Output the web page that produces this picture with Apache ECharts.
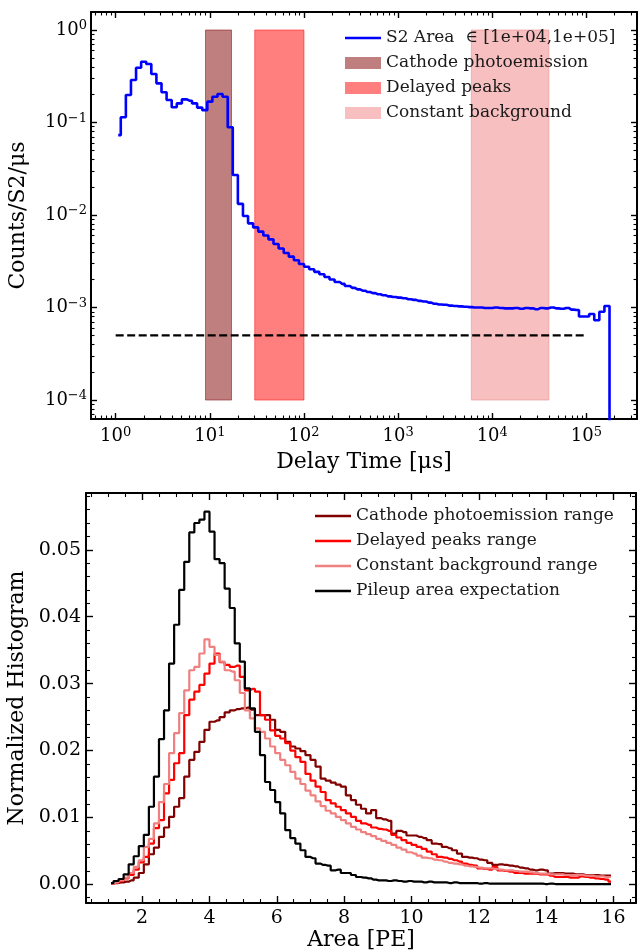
<!DOCTYPE html>
<html><head><meta charset="utf-8">
<script src="https://cdn.jsdelivr.net/npm/echarts@6/dist/echarts.min.js"></script>
<style>html,body{margin:0;padding:0;background:#fff}#c{width:641px;height:952px}</style>
</head><body><div id="c"></div>
<script>
// ---------------- DATA ----------------
// Top panel: log-spaced delay-time histogram (bins from 10^0 to 10^5.3)
const delayBinLogMin = 0, delayBinLogMax = 5.3, delayBinCount = 98;
const delayCounts = [
  0.073, 0.114, 0.198, 0.288, 0.391, 0.454, 0.429, 0.335, 0.265, 0.212,
  0.175, 0.146, 0.161, 0.178, 0.172, 0.161, 0.145, 0.136, 0.168, 0.190,
  0.203, 0.190, 0.0888, 0.0271, 0.0132, 0.00975, 0.00813, 0.00735, 0.00662, 0.00601,
  0.00546, 0.00487, 0.00435, 0.00388, 0.00355, 0.00324, 0.00296, 0.00276, 0.00259, 0.00243,
  0.00229, 0.00214, 0.00201, 0.00189, 0.00180, 0.00171, 0.00163, 0.00157, 0.00152, 0.00147,
  0.00143, 0.00139, 0.00136, 0.00132, 0.00130, 0.00128, 0.00126, 0.00123, 0.00121, 0.00118,
  0.00116, 0.00113, 0.00110, 0.00108, 0.00107, 0.00105, 0.00104, 0.00103, 0.00102, 0.00101,
  0.00100, 0.00100, 0.00099, 0.00099, 0.00100, 0.00099, 0.00098, 0.00098, 0.00099, 0.00097,
  0.00099, 0.00098, 0.00096, 0.00099, 0.00098, 0.00100, 0.00098, 0.00097, 0.00099, 0.00095,
  0.00094, 0.00080, 0.00080, 0.00085, 0.00073, 0.00090, 0.00104, 0
];
const delaySeriesName = 'S2 Area  \u2208 [1e+04,1e+05]';
const bandNames = ['Cathode photoemission', 'Delayed peaks', 'Constant background'];
const bandXRanges = [[9, 17], [30, 100], [6000, 40000]];
const bandYRange = [1e-4, 1];
const pileupLevel = 5e-4;
const pileupLevelXRange = [1, 1e5];
const topXMajor = [1, 10, 100, 1000, 10000, 100000];
const topYMajor = [1e-4, 1e-3, 1e-2, 1e-1, 1];

// Bottom panel: linear area histograms (100 bins from 1 to 16 PE)
const areaBinMin = 1, areaBinMax = 16, areaBinCount = 100;
const areaSeriesNames = ['Cathode photoemission range', 'Delayed peaks range', 'Constant background range', 'Pileup area expectation'];
const cathodeHist = [
  0.0001, 0.0002, 0.0003, 0.0004, 0.0006, 0.0010, 0.0017, 0.0030, 0.0045, 0.0055,
  0.0071, 0.0085, 0.0101, 0.0116, 0.0129, 0.0161, 0.0186, 0.0198, 0.0213, 0.0231,
  0.0243, 0.0245, 0.0250, 0.0257, 0.0260, 0.0262, 0.0263, 0.0264, 0.0261, 0.0253,
  0.0253, 0.0253, 0.0246, 0.0231, 0.0228, 0.0213, 0.0206, 0.0203, 0.0199, 0.0193,
  0.0186, 0.0176, 0.0158, 0.0155, 0.0152, 0.0149, 0.0146, 0.0133, 0.0126, 0.0119,
  0.0113, 0.0106, 0.0111, 0.0099, 0.0097, 0.0095, 0.0076, 0.0080, 0.0078, 0.0073,
  0.0073, 0.0071, 0.0069, 0.0066, 0.0061, 0.0060, 0.0056, 0.0054, 0.0051, 0.0046,
  0.0041, 0.0040, 0.0039, 0.0037, 0.0036, 0.0032, 0.0029, 0.0030, 0.0029, 0.0028,
  0.0027, 0.0025, 0.0024, 0.0022, 0.0021, 0.0022, 0.0021, 0.0016, 0.0017, 0.0017,
  0.0016, 0.0016, 0.0015, 0.0015, 0.0014, 0.0014, 0.0014, 0.0013, 0.0013, 0.0013
];
const delayedHist = [
  0.0001, 0.0003, 0.0005, 0.0009, 0.0014, 0.0022, 0.0033, 0.0041, 0.0061, 0.0084,
  0.0096, 0.0136, 0.0156, 0.0181, 0.0196, 0.0253, 0.0276, 0.0288, 0.0298, 0.0315,
  0.0330, 0.0345, 0.0332, 0.0328, 0.0325, 0.0327, 0.0310, 0.0290, 0.0292, 0.0288,
  0.0253, 0.0246, 0.0230, 0.0222, 0.0218, 0.0211, 0.0200, 0.0190, 0.0183, 0.0165,
  0.0155, 0.0146, 0.0138, 0.0126, 0.0121, 0.0116, 0.0111, 0.0106, 0.0101, 0.0095,
  0.0091, 0.0089, 0.0085, 0.0083, 0.0082, 0.0080, 0.0074, 0.0070, 0.0066, 0.0062,
  0.0059, 0.0056, 0.0053, 0.0049, 0.0045, 0.0041, 0.0040, 0.0038, 0.0036, 0.0034,
  0.0031, 0.0029, 0.0028, 0.0024, 0.0023, 0.0022, 0.0026, 0.0021, 0.0020, 0.0019,
  0.0017, 0.0017, 0.0016, 0.0016, 0.0016, 0.0015, 0.0015, 0.0013, 0.0011, 0.0011,
  0.0011, 0.0010, 0.0010, 0.0012, 0.0011, 0.0010, 0.0009, 0.0008, 0.0007, 0.0004
];
const constantHist = [
  0.0001, 0.0003, 0.0006, 0.0010, 0.0017, 0.0026, 0.0036, 0.0056, 0.0068, 0.0091,
  0.0123, 0.0150, 0.0196, 0.0226, 0.0256, 0.0290, 0.0320, 0.0325, 0.0345, 0.0366,
  0.0355, 0.0343, 0.0333, 0.0320, 0.0318, 0.0305, 0.0286, 0.0260, 0.0248, 0.0233,
  0.0228, 0.0218, 0.0206, 0.0196, 0.0186, 0.0178, 0.0168, 0.0158, 0.0150, 0.0140,
  0.0133, 0.0124, 0.0117, 0.0110, 0.0106, 0.0101, 0.0096, 0.0091, 0.0086, 0.0082,
  0.0078, 0.0075, 0.0072, 0.0068, 0.0065, 0.0062, 0.0059, 0.0055, 0.0052, 0.0048,
  0.0046, 0.0043, 0.0040, 0.0039, 0.0037, 0.0036, 0.0034, 0.0032, 0.0031, 0.0030,
  0.0028, 0.0027, 0.0026, 0.0025, 0.0024, 0.0024, 0.0023, 0.0022, 0.0021, 0.0021,
  0.0020, 0.0019, 0.0019, 0.0018, 0.0017, 0.0016, 0.0016, 0.0015, 0.0015, 0.0015,
  0.0014, 0.0014, 0.0014, 0.0014, 0.0013, 0.0013, 0.0012, 0.0012, 0.0011, 0.0011
];
const pileupHist = [
  0.0002, 0.0005, 0.0008, 0.0015, 0.0030, 0.0042, 0.0057, 0.0074, 0.0116, 0.0161,
  0.0217, 0.0260, 0.0330, 0.0388, 0.0440, 0.0482, 0.0526, 0.0540, 0.0545, 0.0557,
  0.0527, 0.0486, 0.0480, 0.0442, 0.0413, 0.0360, 0.0333, 0.0293, 0.0263, 0.0228,
  0.0193, 0.0153, 0.0141, 0.0123, 0.0106, 0.0081, 0.0069, 0.0061, 0.0051, 0.0041,
  0.0039, 0.0031, 0.0029, 0.0028, 0.0021, 0.0022, 0.0017, 0.0017, 0.0014, 0.0011,
  0.0010, 0.0009, 0.0007, 0.0006, 0.0006, 0.0005, 0.0006, 0.0005, 0.0004, 0.0005,
  0.0004, 0.0004, 0.0003, 0.0004, 0.0003, 0.0003, 0.0003, 0.0002, 0.0003, 0.0002,
  0.0002, 0.0002, 0.0002, 0.0001, 0.0002, 0.0001, 0.0001, 0.0001, 0.0001, 0.0001,
  0.0001, 0.0001, 0.0001, 0.0001, 0.0001, 0.0001, 0.00005, 0.0001, 0.00005, 0.00005,
  0.00005, 0.00005, 0.00005, 0.00005, 0.00005, 0.00003, 0.00003, 0.00003, 0.00003, 0.00003
];
const bottomXMajor = [2, 4, 6, 8, 10, 12, 14, 16];
const bottomYMajor = [0, 0.01, 0.02, 0.03, 0.04, 0.05];

// ---------------- BUILD ----------------
const F = 'DejaVu Serif';
const delayCenters = delayCounts.map((_, k) =>
  Math.pow(10, delayBinLogMin + (k + 0.5) * (delayBinLogMax - delayBinLogMin) / delayBinCount));
const areaCenters = cathodeHist.map((_, k) =>
  areaBinMin + (k + 0.5) * (areaBinMax - areaBinMin) / areaBinCount);

function logMinor(lo, hi) {
  const out = [];
  for (let e = Math.floor(Math.log10(lo)); e <= Math.ceil(Math.log10(hi)); e++) {
    for (let m = 2; m <= 9; m++) {
      const v = m * Math.pow(10, e);
      if (v >= lo && v <= hi) out.push(v);
    }
  }
  return out;
}
function linMinor(lo, hi, step, majors) {
  const out = [];
  const start = Math.ceil(lo / step);
  for (let i = start; i * step <= hi; i++) {
    const v = +(i * step).toFixed(6);
    if (!majors.some(m => Math.abs(m - v) < 1e-9)) out.push(v);
  }
  return out;
}

const TOPX = [0.5467, 3.45e5], TOPY = [6.24e-5, 1.565];
const BOTX = [0.3325, 16.6675], BOTY = [-0.002785, 0.058485];

const supRich = {
  b: { fontFamily: F, fontSize: 18, color: '#000' },
  s: { fontFamily: F, fontSize: 13, color: '#000', padding: [0, 0, 8, 0] }
};
const logFmt = v => {
  const e = Math.round(Math.log10(v));
  return '{b|10}{s|' + (e < 0 ? '\u2212' + (-e) : e) + '}';
};

function axis(o) {
  const a = {
    type: o.type, gridIndex: o.grid, position: o.pos, min: o.range[0], max: o.range[1],
    axisLine: { show: !!o.line, onZero: false, lineStyle: { color: '#000', width: 2 } },
    axisTick: { show: true, inside: true, length: o.len, customValues: o.ticks,
      lineStyle: { color: '#000', width: o.tw || 1.4 } },
    axisLabel: { show: !!o.labels, customValues: o.ticks, margin: o.margin || 6,
      formatter: o.fmt, rich: o.rich, fontFamily: F, fontSize: 19, color: '#000' },
    splitLine: { show: false }, minorTick: { show: false }, minorSplitLine: { show: false }
  };
  if (o.name) {
    a.name = o.name; a.nameLocation = 'middle'; a.nameGap = o.gap;
    a.nameTextStyle = { fontFamily: F, fontSize: o.nameSize || 22, color: '#000' };
  }
  return a;
}

const topXMinor = logMinor(TOPX[0], TOPX[1]);
const topYMinor = logMinor(TOPY[0], TOPY[1]);
const botXMinor = linMinor(BOTX[0], BOTX[1], 0.5, bottomXMajor);
const botYMinor = linMinor(BOTY[0], BOTY[1], 0.002, bottomYMajor);

const xAxes = [
  axis({ type: 'log', grid: 0, pos: 'bottom', range: TOPX, line: true, len: 6, ticks: topXMajor, labels: true,
         fmt: logFmt, rich: supRich, margin: 7, name: 'Delay Time [\u03bcs]', gap: 32 }),
  axis({ type: 'log', grid: 0, pos: 'bottom', range: TOPX, len: 3.5, ticks: topXMinor, tw: 1.1 }),
  axis({ type: 'log', grid: 0, pos: 'top', range: TOPX, line: true, len: 6, ticks: topXMajor }),
  axis({ type: 'log', grid: 0, pos: 'top', range: TOPX, len: 3.5, ticks: topXMinor, tw: 1.1 }),
  axis({ type: 'value', grid: 1, pos: 'bottom', range: BOTX, line: true, len: 7, ticks: bottomXMajor, labels: true,
         fmt: v => String(Math.round(v)), margin: 6, name: 'Area [PE]', gap: 26 }),
  axis({ type: 'value', grid: 1, pos: 'bottom', range: BOTX, len: 4, ticks: botXMinor, tw: 1.1 }),
  axis({ type: 'value', grid: 1, pos: 'top', range: BOTX, line: true, len: 7, ticks: bottomXMajor }),
  axis({ type: 'value', grid: 1, pos: 'top', range: BOTX, len: 4, ticks: botXMinor, tw: 1.1 })
];
const yAxes = [
  axis({ type: 'log', grid: 0, pos: 'left', range: TOPY, line: true, len: 6, ticks: topYMajor, labels: true,
         fmt: logFmt, rich: supRich, margin: 4, name: 'Counts/S2/\u03bcs', gap: 62 }),
  axis({ type: 'log', grid: 0, pos: 'left', range: TOPY, len: 3.5, ticks: topYMinor, tw: 1.1 }),
  axis({ type: 'log', grid: 0, pos: 'right', range: TOPY, line: true, len: 6, ticks: topYMajor }),
  axis({ type: 'log', grid: 0, pos: 'right', range: TOPY, len: 3.5, ticks: topYMinor, tw: 1.1 }),
  axis({ type: 'value', grid: 1, pos: 'left', range: BOTY, line: true, len: 7, ticks: bottomYMajor, labels: true,
         fmt: v => v.toFixed(2), margin: 5, name: 'Normalized Histogram', gap: 56 }),
  axis({ type: 'value', grid: 1, pos: 'left', range: BOTY, len: 4, ticks: botYMinor, tw: 1.1 }),
  axis({ type: 'value', grid: 1, pos: 'right', range: BOTY, line: true, len: 7, ticks: bottomYMajor }),
  axis({ type: 'value', grid: 1, pos: 'right', range: BOTY, len: 4, ticks: botYMinor, tw: 1.1 })
];

const bandColors = ['rgba(128,0,0,0.5)', 'rgba(255,0,0,0.5)', 'rgba(240,128,128,0.5)'];
const areaColors = ['#800000', '#ff0000', '#f08080', '#000000'];
const lineIcon = 'path://M0,0L36,0L36,2.6L0,2.6Z';

const series = [];
bandNames.forEach((nm, i) => {
  series.push({
    type: 'custom', name: nm, xAxisIndex: 0, yAxisIndex: 0, z: 1,
    itemStyle: { color: bandColors[i] },
    encode: { x: [0, 1], y: [2, 3] },
    data: [[bandXRanges[i][0], bandXRanges[i][1], bandYRange[0], bandYRange[1]]],
    renderItem: (params, api) => {
      const p0 = api.coord([api.value(0), api.value(3)]);
      const p1 = api.coord([api.value(1), api.value(2)]);
      return { type: 'rect', shape: { x: p0[0], y: p0[1], width: p1[0] - p0[0], height: p1[1] - p0[1] },
               style: { fill: bandColors[i], stroke: bandColors[i], lineWidth: 1 } };
    }
  });
});
series.push({
  type: 'line', name: delaySeriesName, xAxisIndex: 0, yAxisIndex: 0, z: 3,
  step: 'middle', showSymbol: false, symbol: 'none', color: '#0000ff',
  lineStyle: { color: '#0000ff', width: 2.6 },
  data: delayCounts.map((v, k) => [delayCenters[k], v > 0 ? v : 1e-9])
});
series.push({
  type: 'line', name: 'pileup level', xAxisIndex: 0, yAxisIndex: 0, z: 4,
  showSymbol: false, symbol: 'none',
  lineStyle: { color: '#000', width: 2.2, type: [8, 3.5] },
  data: pileupLevelXRange.map(x => [x, pileupLevel])
});
[cathodeHist, delayedHist, constantHist, pileupHist].forEach((h, i) => {
  series.push({
    type: 'line', name: areaSeriesNames[i], xAxisIndex: 4, yAxisIndex: 4, z: 3 + i,
    step: 'middle', showSymbol: false, symbol: 'none', color: areaColors[i],
    lineStyle: { color: areaColors[i], width: 2.2 },
    data: h.map((v, k) => [areaCenters[k], v])
  });
});

const legendText = { fontFamily: F, fontSize: 17, color: '#1a1a1a', lineHeight: 20 };
const option = {
  animation: false,
  backgroundColor: '#fff',
  grid: [
    { left: 91, top: 12, width: 546, height: 407, outerBoundsMode: 'none', containLabel: false },
    { left: 86, top: 493, width: 550, height: 410, outerBoundsMode: 'none', containLabel: false }
  ],
  xAxis: xAxes,
  yAxis: yAxes,
  legend: [
    { orient: 'vertical', left: 340, top: 23, itemWidth: 36, itemHeight: 12, itemGap: 5,
      textStyle: legendText, selectedMode: false,
      data: [{ name: delaySeriesName, icon: lineIcon }].concat(bandNames.map(n => ({ name: n, icon: 'rect' }))) },
    { orient: 'vertical', left: 310, top: 501, itemWidth: 36, itemHeight: 12, itemGap: 5,
      textStyle: legendText, selectedMode: false,
      data: areaSeriesNames.map(n => ({ name: n, icon: lineIcon })) }
  ],
  series: series
};
const chart = echarts.init(document.getElementById('c'), null, { renderer: 'canvas' });
chart.setOption(option);
</script></body></html>
